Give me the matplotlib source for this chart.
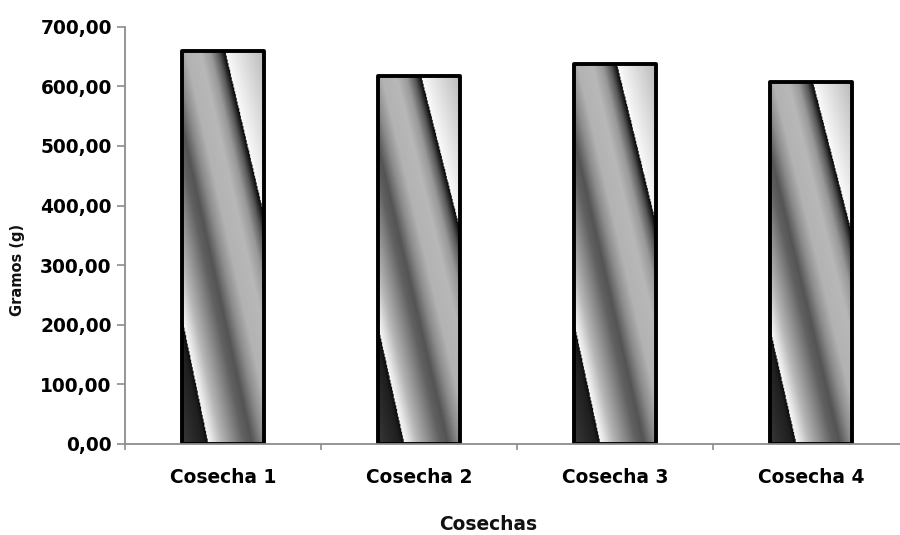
import numpy as np
import matplotlib
matplotlib.use("Agg")
import matplotlib.pyplot as plt
from matplotlib.ticker import FuncFormatter, FixedLocator

categories = ["Cosecha 1", "Cosecha 2", "Cosecha 3", "Cosecha 4"]
values = [660, 618, 637, 607]
y_ticks = [0, 100, 200, 300, 400, 500, 600, 700]
y_label = "Gramos (g)"
x_label = "Cosechas"

plt.rcParams['font.family'] = ['DejaVu Sans']

fig = plt.figure(figsize=(9, 5.35), dpi=100)
ax = fig.add_axes([125/900, (535-444)/535, 784/900, (444-26.7)/535])

x = np.arange(len(categories))
bars = ax.bar(x, values, width=0.42, facecolor='none', edgecolor='black',
              linewidth=2.8, joinstyle='round', zorder=3)


def bar_texture(nrows=420, ncols=100, W=83.0, H=396.0):
    ry = (np.arange(nrows) + 0.5) / nrows
    rx = (np.arange(ncols) + 0.5) / ncols
    RX, RY = np.meshgrid(rx, ry)
    px = RX * W
    py = RY * H
    xb = (py - 269.0) / 4.8
    xt = 43.0 + py / 4.25
    t = (px - xb) / (xt - xb)
    val = np.empty_like(t)
    m0 = t < 0
    val[m0] = np.interp(-t[m0], [0.0, 0.04, 0.4], [0.05, 0.12, 0.3])
    m1 = (t >= 0) & (t < 1)
    val[m1] = np.interp(t[m1],
                        [0.0, 0.04, 0.12, 0.22, 0.33, 0.40, 0.5, 0.6, 0.75, 0.85, 0.93, 0.985, 1.0],
                        [0.97, 0.9, 0.72, 0.56, 0.38, 0.33, 0.55, 0.7, 0.72, 0.6, 0.35, 0.08, 0.03])
    m2 = t >= 1
    val[m2] = np.interp(t[m2], [1.0, 1.03, 1.15, 1.4], [0.98, 0.96, 0.88, 0.72])
    return val


tex = bar_texture()
for b in bars:
    x0, y0 = b.get_x(), b.get_y()
    w, h = b.get_width(), b.get_height()
    im = ax.imshow(tex, cmap='gray', vmin=0, vmax=1, aspect='auto',
                   extent=(x0, x0 + w, y0, y0 + h), origin='upper',
                   interpolation='bilinear', zorder=2)
    im.set_clip_path(b)

ax.set_xlim(-0.5, len(categories) - 0.5)
ax.set_ylim(0, 700)
ax.set_yticks(y_ticks)
ax.yaxis.set_major_formatter(FuncFormatter(lambda v, p: f"{v:.2f}".replace('.', ',')))

ax.set_xticks(x)
ax.set_xticklabels(categories, fontsize=13.4, fontweight='bold')
ax.tick_params(axis='x', which='major', length=0, pad=17.5)
ax.xaxis.set_minor_locator(FixedLocator(np.arange(-0.5, len(categories), 1.0)))
ax.tick_params(axis='x', which='minor', length=4, width=1.2, color='#8c8c8c')

ax.tick_params(axis='y', length=6, width=1.2, color='#8c8c8c', pad=3.5)
for lbl in ax.get_yticklabels():
    lbl.set_fontsize(13.4)
    lbl.set_fontweight('bold')

for s in ['top', 'right']:
    ax.spines[s].set_visible(False)
for s in ['left', 'bottom']:
    ax.spines[s].set_color('#8c8c8c')
    ax.spines[s].set_linewidth(1.3)
ax.spines['bottom'].set_zorder(4)

fig.text(18/900, 1 - 270/535, y_label, rotation=90, ha='center', va='center',
         fontsize=10.5, fontweight='bold', color='#111111')
fig.text(488/900, 1 - 524/535, x_label, ha='center', va='center',
         fontsize=13.4, fontweight='bold', color='#111111')

fig.savefig("out.png", dpi=100, facecolor='white')
